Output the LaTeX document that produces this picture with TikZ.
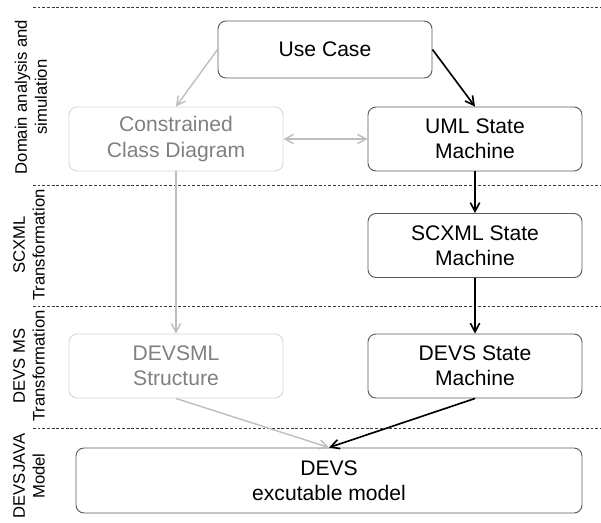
\documentclass[tikz,border=0pt]{standalone}
\usepackage{fontspec}
\setmainfont{Liberation Sans}
\usetikzlibrary{arrows.meta}
\definecolor{stE}{RGB}{90,90,90}
\definecolor{fdE}{RGB}{215,215,215}
\definecolor{fdT}{RGB}{128,128,128}
\definecolor{fdA}{RGB}{190,190,190}
\definecolor{sepL}{RGB}{60,60,60}
\newcommand{\BW}{6.42cm}
\newcommand{\BH}{1.92cm}
\newcommand{\XL}{33}
\newcommand{\XR}{601}

\begin{document}
\begin{tikzpicture}[
    x=0.03cm, y=-0.03cm,
    stage/.style={draw=stE, line width=0.8pt, rounded corners=0.24cm,
      align=center, inner sep=0pt, minimum width=\BW, minimum height=\BH,
      font=\fontsize{18}{21.5}\selectfont},
    faded/.style={stage, draw=fdE, text=fdT},
    band/.style={rotate=90, align=center, font=\fontsize{14.2}{17}\selectfont},
    sep/.style={draw=sepL, line width=0.5pt, dash pattern=on 2.4pt off 1.6pt},
    flow/.style={-{Straight Barb[length=2.6mm,width=2.8mm]}, line width=1.4pt},
    fade/.style={flow, draw=fdA, line width=1.2pt},
  ]
  \useasboundingbox (0,0) rectangle (601,522);

  %% ================= bands =================
  \foreach \y in {7,185,306,428} {
    \draw[sep] (\XL,\y) -- (\XR,\y);
  }
  \node[band] (bDomain) at (31,97)  {Domain analysis and\\simulation};
  \node[band] (bScxml)  at (29,245) {SCXML\\Transformation};
  \node[band] (bDevsms) at (29,366) {DEVS MS\\Transformation};
  \node[band] (bJava)   at (29,476) {DEVSJAVA\\Model};

  %% ================= models =================
  \node[stage, minimum height=1.71cm] (usecase) at (325,49.5) {Use Case};
  \node[faded] (ccd)    at (176,139) {Constrained\\Class Diagram};
  \node[stage] (uml)    at (475,139) {UML State\\Machine};
  \node[stage] (scxml)  at (475,245.5) {SCXML State\\Machine};
  \node[faded] (devsml) at (176,366) {DEVSML\\Structure};
  \node[stage] (devssm) at (475,366) {DEVS State\\Machine};
  \node[stage, minimum width=15.18cm, minimum height=1.95cm] (exec)
    at (329,480.5) {DEVS\\excutable model};

  %% ---- structure side (greyed out) ----
  \draw[fade] (usecase.west) -- (ccd.north);
  \draw[fade, {Straight Barb[length=2.6mm,width=2.8mm]}-{Straight Barb[length=2.6mm,width=2.8mm]}]
    (ccd) -- (uml);
  \draw[fade] (ccd) -- (devsml);
  \draw[fade] (devsml.south) -- (exec.north);

  %% ---- behaviour side ----
  \draw[flow] (usecase.east) -- (uml.north);
  \draw[flow] (uml) -- (scxml);
  \draw[flow] (scxml) -- (devssm);
  \draw[flow] (devssm.south) -- (exec.north);

\end{tikzpicture}
\end{document}
